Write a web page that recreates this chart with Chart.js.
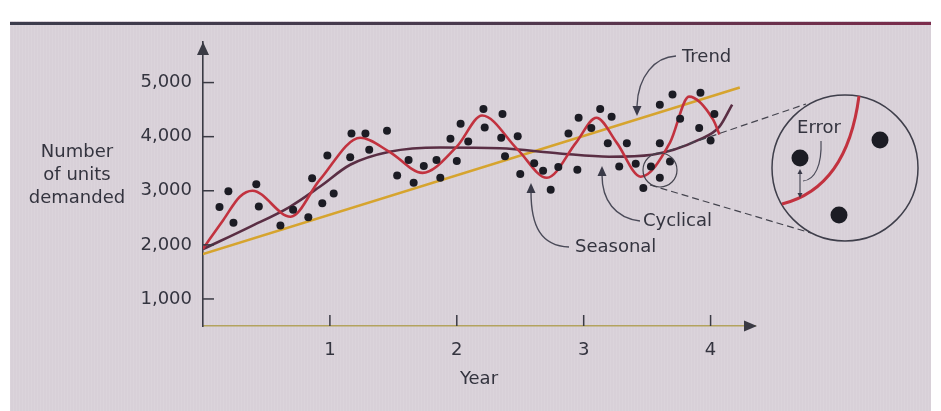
<!DOCTYPE html>
<html><head><meta charset="utf-8">
<script src="https://cdn.jsdelivr.net/npm/chart.js@4.4.1/dist/chart.umd.min.js"></script>
<style>
html,body{margin:0;padding:0;background:#fff;width:941px;height:411px;overflow:hidden;}
#panel{position:absolute;left:10px;top:21px;width:921px;height:390px;background:#d8d0d8;
 background-image:repeating-linear-gradient(90deg,rgba(255,255,255,0.08) 0 1px,rgba(0,0,0,0) 1px 3px);}
#topline{position:absolute;left:10px;top:22px;width:921px;height:3px;background:linear-gradient(90deg,#3c3c4c,#4a3a4e 50%,#7c2c4c);}
#wrap{position:absolute;left:0;top:0;width:941px;height:411px;}
</style></head>
<body>
<div id="panel"></div><div id="topline"></div>
<div id="wrap"><canvas id="c" width="941" height="411"></canvas></div>
<script>
// ---- data ----
const dotYears  = [0.20,0.13,0.24,0.42,0.44,0.61,0.71,0.83,0.86,0.94,1.03,0.98,1.16,1.17,1.28,1.31,1.45,1.62,1.53,1.66,
                   1.74,1.84,1.87,1.95,2.03,2.00,2.09,2.21,2.22,2.36,2.35,2.48,2.38,2.50,2.61,2.68,2.74,2.80,2.88,2.96,
                   2.95,3.06,3.13,3.22,3.19,3.34,3.28,3.41,3.47,3.53,3.60,3.60,3.68,3.60,3.70,3.76,3.92,3.91,4.03,4.00];
const dotValues = [2990,2700,2410,3120,2710,2360,2650,2510,3230,2770,2950,3650,3620,4060,4060,3760,4110,3570,3280,3150,
                   3460,3570,3240,3960,4240,3550,3910,4510,4170,4420,3980,4010,3640,3310,3510,3370,3020,3440,4060,4350,
                   3390,4160,4510,4370,3880,3880,3450,3500,3050,3450,3240,3880,3540,4590,4780,4330,4810,4160,4420,3930];
const seasonalYears  = [0,0.16,0.29,0.39,0.69,0.92,1.24,1.47,1.73,2.00,2.20,2.48,2.71,2.94,3.10,3.26,3.45,3.68,3.83,4.02,4.07];
const seasonalValues = [1930,2460,2890,3000,2520,3200,3980,3720,3330,3815,4390,3760,3240,3890,4350,3890,3260,3890,4740,4315,4040];
const cyclicalYears  = [0,0.37,0.685,0.92,1.16,1.47,1.87,2.34,2.81,3.20,3.54,3.91,4.07,4.17];
const cyclicalValues = [1920,2333,2704,3074,3481,3722,3800,3785,3690,3630,3667,3944,4185,4593];
const trendYears  = [0,4.23];
const trendValues = [1830,4907];
const xTickValues = [1,2,3,4];
const xTickLabels = ['1','2','3','4'];
const yTickValues = [1000,2000,3000,4000,5000];
const yTickLabels = ['1,000','2,000','3,000','4,000','5,000'];
const yTitleLines = ['Number','of units','demanded'];
const xTitle = 'Year';
const annotations = {trend:'Trend', cyclical:'Cyclical', seasonal:'Seasonal', error:'Error'};

// ---- styles ----
const FONT = '"DejaVu Sans", sans-serif';
const TXT = '#34343f';
const INK = '#3a3a44';
const RED = '#c2323f';
const CYC = '#5a2e44';
const GOLD = '#d6a42e';

const pts = (xs, ys) => xs.map((x, i) => ({x, y: ys[i]}));

function arrowHead(ctx, x, y, ang, len, hw) {
  ctx.save();
  ctx.translate(x, y); ctx.rotate(ang);
  ctx.beginPath();
  ctx.moveTo(0, 0); ctx.lineTo(-len, -hw); ctx.lineTo(-len, hw); ctx.closePath();
  ctx.fill();
  ctx.restore();
}

const decor = {
  id: 'decor',
  afterDraw(chart) {
    const {ctx, chartArea: a, scales: {x, y}} = chart;
    ctx.save();
    ctx.fillStyle = INK; ctx.strokeStyle = INK;
    // axis arrowheads
    arrowHead(ctx, a.left, a.top, -Math.PI / 2, 13, 6);
    arrowHead(ctx, a.right + 2, a.bottom, 0, 13, 5.5);
    // tick marks (inside)
    ctx.lineWidth = 1.5;
    y.ticks.forEach(t => { const p = y.getPixelForValue(t.value); ctx.beginPath(); ctx.moveTo(a.left, p); ctx.lineTo(a.left + 11, p); ctx.stroke(); });
    x.ticks.forEach(t => { const p = x.getPixelForValue(t.value); ctx.beginPath(); ctx.moveTo(p, a.bottom); ctx.lineTo(p, a.bottom - 11); ctx.stroke(); });

    // y title
    ctx.font = '18px ' + FONT; ctx.fillStyle = TXT; ctx.textAlign = 'center'; ctx.textBaseline = 'middle';
    yTitleLines.forEach((s, i) => ctx.fillText(s, 77, 152 + i * 23));

    // annotation labels
    ctx.textAlign = 'left';
    ctx.fillText(annotations.trend, 682, 57);
    ctx.fillText(annotations.cyclical, 643, 221);
    ctx.fillText(annotations.seasonal, 575, 247);

    // leader curves
    ctx.strokeStyle = '#4a4a58'; ctx.fillStyle = '#3a3a48'; ctx.lineWidth = 1.4;
    ctx.beginPath(); ctx.moveTo(676, 56); ctx.bezierCurveTo(655, 57, 638, 76, 637, 106); ctx.stroke();
    arrowHead(ctx, 637, 116, Math.PI / 2, 10, 4.5);
    ctx.beginPath(); ctx.moveTo(640, 221); ctx.bezierCurveTo(615, 218, 602, 200, 602, 175); ctx.stroke();
    arrowHead(ctx, 602, 166, -Math.PI / 2, 10, 4.5);
    ctx.beginPath(); ctx.moveTo(569, 247); ctx.bezierCurveTo(541, 246, 531, 226, 531, 192); ctx.stroke();
    arrowHead(ctx, 531, 183, -Math.PI / 2, 10, 4.5);

    // zoom circle + dashed rays
    ctx.strokeStyle = '#44444e'; ctx.lineWidth = 1.2;
    ctx.beginPath(); ctx.arc(660, 170, 17, 0, Math.PI * 2); ctx.stroke();
    ctx.setLineDash([7, 4]);
    ctx.beginPath(); ctx.moveTo(668, 151); ctx.lineTo(806, 104); ctx.stroke();
    ctx.beginPath(); ctx.moveTo(650, 185); ctx.lineTo(811, 233); ctx.stroke();
    ctx.setLineDash([]);

    // inset
    ctx.lineWidth = 1.5; ctx.strokeStyle = '#3e3e4a';
    ctx.beginPath(); ctx.arc(845, 168, 73, 0, Math.PI * 2); ctx.stroke();
    ctx.strokeStyle = RED; ctx.lineWidth = 3;
    ctx.beginPath(); ctx.moveTo(859, 96); ctx.bezierCurveTo(852, 150, 830, 192, 782, 204); ctx.stroke();
    ctx.fillStyle = '#1c1c24';
    [[800, 158], [880, 140], [839, 215]].forEach(([cx, cy]) => { ctx.beginPath(); ctx.arc(cx, cy, 8.5, 0, Math.PI * 2); ctx.fill(); });
    ctx.fillStyle = TXT; ctx.font = '18px ' + FONT; ctx.textAlign = 'center';
    ctx.fillText(annotations.error, 819, 128);
    ctx.strokeStyle = '#4a4a58'; ctx.lineWidth = 1.2;
    ctx.beginPath(); ctx.moveTo(821, 141); ctx.bezierCurveTo(822, 165, 815, 180, 803, 181); ctx.stroke();
    ctx.beginPath(); ctx.moveTo(800, 173); ctx.lineTo(800, 194); ctx.stroke();
    ctx.fillStyle = '#3a3a48';
    arrowHead(ctx, 800, 169, -Math.PI / 2, 5, 2.5);
    arrowHead(ctx, 800, 198, Math.PI / 2, 5, 2.5);
    ctx.restore();
  }
};

new Chart(document.getElementById('c'), {
  type: 'scatter',
  data: {
    datasets: [
      {label: 'Data', data: pts(dotYears, dotValues), order: 0, pointRadius: 4, pointHoverRadius: 4,
       backgroundColor: '#1c1c24', borderColor: '#1c1c24', borderWidth: 0, showLine: false},
      {label: 'Seasonal', data: pts(seasonalYears, seasonalValues), order: 1, showLine: true, pointRadius: 0,
       borderColor: RED, borderWidth: 2.6, cubicInterpolationMode: 'monotone', fill: false},
      {label: 'Cyclical', data: pts(cyclicalYears, cyclicalValues), order: 2, showLine: true, pointRadius: 0,
       borderColor: CYC, borderWidth: 2.6, cubicInterpolationMode: 'monotone', fill: false},
      {label: 'Trend', data: pts(trendYears, trendValues), order: 3, showLine: true, pointRadius: 0,
       borderColor: GOLD, borderWidth: 2.6, fill: false}
    ]
  },
  options: {
    responsive: false, animation: false, devicePixelRatio: 1,
    layout: {padding: {left: 0, top: 42, right: 186, bottom: 0}},
    plugins: {legend: {display: false}, tooltip: {enabled: false}},
    scales: {
      x: {type: 'linear', min: 0, max: 4.35,
        afterBuildTicks: s => { s.ticks = xTickValues.map(v => ({value: v})); },
        afterFit: s => { s.height = 85; },
        grid: {display: false, drawTicks: false},
        border: {display: true, color: '#b3a35e', width: 1.6},
        ticks: {padding: 14, color: TXT, font: {family: FONT, size: 18}, maxRotation: 0,
                callback: (v, i) => xTickLabels[i]},
        title: {display: true, text: xTitle, color: TXT, font: {family: FONT, size: 18}, padding: {top: 0, bottom: 21}}
      },
      y: {type: 'linear', min: 500, max: 5750,
        afterBuildTicks: s => { s.ticks = yTickValues.map(v => ({value: v})); },
        afterFit: s => { s.width = 203; },
        grid: {display: false, drawTicks: false},
        border: {display: true, color: INK, width: 1.6},
        ticks: {padding: 11, color: TXT, font: {family: FONT, size: 18}, callback: (v, i) => yTickLabels[i]}
      }
    }
  },
  plugins: [decor]
});
</script>
</body></html>
